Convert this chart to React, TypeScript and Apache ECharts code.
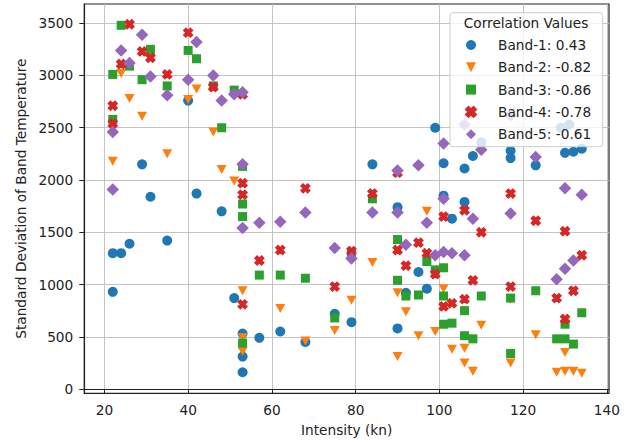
import React, { useEffect, useRef } from "react";
import * as echarts from "echarts";

const xTicks = [20, 40, 60, 80, 100, 120, 140];
const yTicks = [0, 500, 1000, 1500, 2000, 2500, 3000, 3500];

const bandNames = ["Band-1", "Band-2", "Band-3", "Band-4", "Band-5"];
const correlations = ["0.43", "-0.82", "-0.86", "-0.78", "-0.61"];

const band1 = [
  [22, 930], [22, 1300], [24, 1300], [26, 1390], [29, 2150], [31, 1840], [35, 1420],
  [40, 2760], [42, 1870], [48, 1700], [51, 870], [53, 530], [53, 310], [53, 160],
  [57, 490], [62, 550], [68, 450], [75, 720], [79, 640], [84, 2150], [90, 1740],
  [90, 580], [92, 920], [95, 1120], [97, 960], [99, 2500], [101, 2160], [101, 1850],
  [103, 1630], [106, 2110], [106, 1790], [108, 2230], [110, 2360], [117, 2280],
  [117, 2210], [123, 2140], [129, 2500], [131, 2530], [130, 2260], [132, 2270], [134, 2300],
];

const band2 = [
  [22, 2180], [24, 3020], [26, 2780], [29, 2610], [35, 2250], [40, 2770], [42, 2870],
  [46, 2460], [48, 2100], [51, 1990], [53, 940], [53, 490], [53, 360], [62, 770],
  [68, 460], [75, 560], [79, 850], [84, 1210], [90, 920], [90, 310], [92, 740],
  [95, 510], [97, 1700], [99, 550], [101, 960], [103, 380], [106, 390], [106, 250],
  [108, 170], [110, 610], [117, 860], [117, 250], [123, 520], [128, 160], [130, 350],
  [130, 170], [132, 170], [134, 150],
];

const band3 = [
  [22, 3010], [22, 2580], [24, 3480], [26, 3090], [29, 2960], [31, 3250], [35, 2900],
  [40, 3240], [42, 3160], [46, 2900], [48, 2500], [51, 2860], [53, 2130], [53, 1770],
  [53, 1650], [53, 440], [57, 1090], [62, 1090], [68, 1060], [75, 680], [79, 1290],
  [84, 1820], [90, 1430], [90, 1040], [92, 890], [95, 900], [97, 1220], [99, 1140],
  [101, 1160], [101, 890], [101, 620], [103, 630], [106, 750], [106, 510], [108, 480],
  [110, 890], [117, 870], [117, 340], [123, 940], [128, 480], [130, 480], [130, 620],
  [132, 430], [134, 730],
];

const band4 = [
  [22, 2710], [22, 2540], [24, 3110], [26, 3490], [29, 3230], [31, 3170], [35, 3010],
  [40, 3410], [46, 2890], [53, 2820], [53, 1970], [53, 1860], [53, 810], [57, 1230],
  [62, 1330], [68, 1920], [75, 980], [79, 1320], [84, 1870], [90, 2070], [90, 1330],
  [92, 1180], [95, 1400], [97, 1300], [99, 1100], [101, 1650], [101, 790], [103, 820],
  [106, 1710], [106, 860], [108, 1040], [110, 1500], [117, 1870], [117, 980],
  [123, 1610], [128, 870], [130, 1510], [130, 670], [132, 940], [134, 1280],
];

const band5 = [
  [22, 2460], [22, 1910], [24, 3240], [26, 3120], [29, 3390], [31, 2990], [35, 2810],
  [40, 2960], [42, 3320], [46, 3000], [48, 2760], [51, 2820], [53, 2840], [53, 2150],
  [53, 1540], [57, 1590], [62, 1600], [68, 1690], [75, 1350], [79, 1250], [84, 1690],
  [90, 2090], [90, 1690], [92, 1380], [95, 2140], [97, 1590], [99, 1280], [101, 2350],
  [101, 1820], [101, 1310], [103, 1300], [106, 2530], [106, 1280], [108, 1630],
  [110, 2290], [117, 2620], [117, 1680], [123, 2220], [128, 1050], [130, 1150],
  [130, 1920], [132, 1230], [134, 1860],
];

const bands = [band1, band2, band3, band4, band5];

const colors = ["#1f77b4", "#ff7f0e", "#2ca02c", "#d62728", "#9467bd"];
const symbols = [
  "circle",
  "path://M0,0L2,0L1,2Z",
  "rect",
  "path://M1,0L2,1L3,0L4,1L3,2L4,3L3,4L2,3L1,4L0,3L1,2L0,1Z",
  "diamond",
];
const sizes: any[] = [10, [10, 9], 9, 9, 12.5];
const borders = [0, 0, 0, 1.3, 0];

const FONT = "DejaVu Sans";

export default function App() {
  const ref = useRef<HTMLDivElement>(null);
  useEffect(() => {
    if (!ref.current) return;
    const chart = echarts.init(ref.current, null, { renderer: "svg" });
    const names = bandNames.map((b, i) => `${b}: ${correlations[i]}`);
    chart.setOption({
      animation: false,
      backgroundColor: "#ffffff",
      textStyle: { fontFamily: FONT },
      grid: {
        left: 84.3,
        right: 22,
        top: 4,
        bottom: 446 - 393.3,
        show: true,
        borderColor: "#222",
        borderWidth: 1.2,
        backgroundColor: "transparent",
      },
      xAxis: {
        type: "value",
        min: 15.2,
        max: 140.5,
        splitNumber: 6,
        name: "Intensity (kn)",
        nameLocation: "middle",
        nameGap: 30,
        nameTextStyle: { fontFamily: FONT, fontSize: 13.7, color: "#222" },
        axisLine: { show: true, lineStyle: { color: "#222", width: 1.2 } },
        axisTick: { show: true, length: 5, customValues: xTicks, lineStyle: { color: "#222" } },
        axisLabel: {
          customValues: xTicks,
          margin: 10,
          fontFamily: FONT,
          fontSize: 13.7,
          color: "#222",
          formatter: (v: number) => String(v),
        },
        splitLine: { show: true, lineStyle: { color: "#c4c4c4", width: 1 } },
      },
      yAxis: {
        type: "value",
        min: -41,
        max: 3684,
        splitNumber: 7,
        name: "Standard Deviation of Band Temperature",
        nameLocation: "middle",
        nameGap: 51,
        nameTextStyle: { fontFamily: FONT, fontSize: 13.7, color: "#222" },
        axisLine: { show: true, lineStyle: { color: "#222", width: 1.2 } },
        axisTick: { show: true, length: 5, customValues: yTicks, lineStyle: { color: "#222" } },
        axisLabel: {
          customValues: yTicks,
          margin: 11,
          fontFamily: FONT,
          fontSize: 13.7,
          color: "#222",
          formatter: (v: number) => String(v),
        },
        splitLine: { show: true, lineStyle: { color: "#c4c4c4", width: 1 } },
      },
      legend: {
        orient: "vertical",
        left: 465,
        top: 37,
        padding: 0,
        itemWidth: 10,
        itemHeight: 10,
        itemGap: 6.3,
        textStyle: {
          fontFamily: FONT,
          fontSize: 13.7,
          color: "#222",
          lineHeight: 16,
          padding: [0, 0, 0, 17],
        },
        data: names,
        z: 5,
      },
      graphic: [
        {
          type: "rect",
          z: 3,
          shape: { x: 450, y: 12.7, width: 152.7, height: 134, r: 3 },
          style: { fill: "rgba(255,255,255,0.8)", stroke: "#cccccc", lineWidth: 1 },
        },
        {
          type: "text",
          z: 5,
          x: 526,
          y: 23,
          style: {
            text: "Correlation Values",
            fontFamily: FONT,
            fontSize: 13.7,
            fill: "#222",
            align: "center",
            verticalAlign: "middle",
          },
        },
      ],
      series: bands.map((data, i) => ({
        type: "scatter",
        name: names[i],
        data,
        symbol: symbols[i],
        symbolSize: sizes[i],
        itemStyle: {
          color: colors[i],
          opacity: 1,
          borderColor: colors[i],
          borderWidth: borders[i],
        },
        emphasis: { disabled: true },
      })),
    });
    return () => chart.dispose();
  }, []);
  return (
    <div
      ref={ref}
      style={{ position: "absolute", left: 0, top: 0, width: 631, height: 446, background: "#fff" }}
    />
  );
}
